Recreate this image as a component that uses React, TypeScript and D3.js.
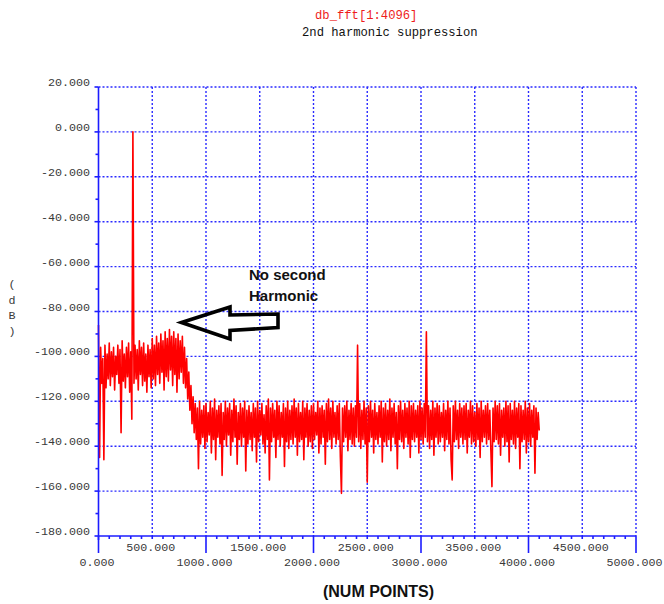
import React from "react";
import * as d3 from "d3";

// ---------- data ----------
const titleMain = "db_fft[1:4096]";
const titleSub = "2nd harmonic suppression";
const yLabel = ["(", "d", "B", ")"];
const xLabel = "(NUM POINTS)";
const noteLines = ["No second", "Harmonic"];

const yTicks = [20, 0, -20, -40, -60, -80, -100, -120, -140, -160, -180];
const xTicks = [0, 500, 1000, 1500, 2000, 2500, 3000, 3500, 4000, 4500, 5000];

// spectrum samples, one every 10 points (0 .. 4100)
const binStep = 10;
const spectrumDb: number[] = [
  -86, -145, -96, -112, -101, -146, -95, -114, -99, -110,
  -94, -113, -98, -109, -96, -115, -100, -108, -95, -112,
  -97, -134, -93, -111, -99, -114, -96, -109, -94, -116,
  -98, -128, 0, -112, -95, -110, -97, -115, -93, -108,
  -96, -113, -94, -111, -99, -116, -95, -109, -97, -114,
  -92, -110, -95, -113, -91, -108, -94, -112, -90, -107,
  -93, -115, -89, -109, -92, -111, -88, -106, -91, -113,
  -89, -108, -92, -116, -90, -110, -93, -107, -91, -112,
  -96, -114, -101, -119, -107, -124, -113, -130, -118, -134,
  -121, -137, -123, -150, -120, -139, -124, -136, -122, -141,
  -121, -138, -125, -135, -120, -143, -123, -137, -119, -146,
  -124, -136, -122, -139, -121, -153, -125, -137, -120, -140,
  -123, -135, -121, -144, -124, -138, -119, -136, -122, -148,
  -125, -137, -121, -140, -123, -136, -120, -151, -124, -139,
  -122, -137, -125, -142, -121, -136, -123, -147, -120, -138,
  -124, -135, -121, -139, -126, -143, -122, -137, -119, -155,
  -123, -138, -121, -136, -124, -145, -120, -137, -122, -140,
  -125, -136, -121, -149, -123, -138, -120, -141, -124, -137,
  -122, -139, -119, -136, -123, -144, -121, -138, -125, -137,
  -120, -146, -123, -136, -121, -140, -124, -138, -122, -141,
  -121, -137, -125, -135, -120, -143, -123, -139, -122, -136,
  -124, -148, -121, -138, -119, -137, -123, -141, -120, -136,
  -125, -139, -122, -137, -121, -145, -161, -123, -138, -122,
  -136, -120, -142, -124, -137, -121, -139, -123, -140, -122,
  -136, -95, -138, -121, -141, -124, -137, -120, -139, -123,
  -156, -122, -138, -120, -136, -124, -143, -121, -137, -125,
  -139, -122, -136, -120, -147, -123, -138, -121, -140, -124,
  -137, -119, -142, -123, -136, -121, -139, -125, -150, -122,
  -137, -120, -138, -124, -141, -121, -136, -123, -139, -120,
  -145, -122, -137, -121, -138, -124, -136, -122, -143, -120,
  -137, -123, -139, -121, -136, -89, -138, -122, -141, -124,
  -137, -120, -144, -123, -136, -121, -139, -122, -138, -125,
  -136, -121, -142, -124, -137, -120, -139, -123, -146, -155,
  -122, -138, -120, -137, -124, -141, -121, -136, -123, -139,
  -122, -137, -121, -143, -124, -136, -120, -139, -122, -138,
  -125, -140, -121, -137, -123, -145, -120, -138, -124, -136,
  -122, -139, -121, -137, -124, -142, -158, -123, -138, -120,
  -137, -122, -139, -121, -144, -124, -136, -123, -140, -120,
  -138, -122, -147, -121, -137, -124, -139, -120, -141, -123,
  -136, -121, -150, -122, -138, -124, -137, -120, -143, -123,
  -138, -121, -140, -124, -136, -122, -152, -123, -137, -125,
  -133,
];

// ---------- component ----------
export default function App() {
  const W = 664;
  const H = 604;
  const x = d3.scaleLinear().domain([0, 5000]).range([98.5, 636]);
  const y = d3.scaleLinear().domain([-180, 20]).range([536, 87]);

  const line = d3
    .line<number>()
    .x((_, i) => x(i * binStep))
    .y((d) => y(d));

  const blue = "#1c1cff";
  const gridColor = "#2a2aff";
  const mono = "'Liberation Mono', 'DejaVu Sans Mono', monospace";
  const textColor = "#3a3a3a";
  const fs = 11.7;

  const yMinor = d3.range(-170, 20, 20);
  const xMinor = d3.range(100, 5000, 100).filter((v) => v % 1000 !== 0);

  return (
    <svg
      width={W}
      height={H}
      viewBox={`0 0 ${W} ${H}`}
      style={{ position: "absolute", left: 0, top: 0, background: "#fff" }}
    >
      <rect x={0} y={0} width={W} height={H} fill="#fff" />

      {/* titles */}
      <text x={315} y={19} fontFamily={mono} fontSize={12.2} fill="#ee1c1c">
        {titleMain}
      </text>
      <text x={302} y={36} fontFamily={mono} fontSize={12.2} fill="#111">
        {titleSub}
      </text>

      {/* grid */}
      <g stroke={gridColor} strokeWidth={1.4} strokeDasharray="2,2" fill="none">
        {yTicks
          .filter((v) => v > -180)
          .map((v) => (
            <line key={"gy" + v} x1={x(0)} x2={x(5000)} y1={y(v)} y2={y(v)} />
          ))}
        {xTicks
          .filter((v) => v > 0)
          .map((v) => (
            <line key={"gx" + v} x1={x(v)} x2={x(v)} y1={y(20)} y2={y(-180)} />
          ))}
      </g>

      {/* spectrum */}
      <path
        d={line(spectrumDb) || ""}
        fill="none"
        stroke="#ff0000"
        strokeWidth={1.6}
        strokeLinejoin="round"
      />

      {/* axes */}
      <g stroke={blue} strokeWidth={1.6} fill="none">
        <line x1={x(0)} x2={x(0)} y1={y(20)} y2={y(-180) + 4} />
        <line x1={x(0)} x2={x(5000)} y1={y(-180)} y2={y(-180)} />
        {yTicks.map((v) => (
          <line key={"ty" + v} x1={x(0) - 4} x2={x(0)} y1={y(v)} y2={y(v)} />
        ))}
        {yMinor.map((v) => (
          <line key={"tym" + v} x1={x(0) - 3} x2={x(0)} y1={y(v)} y2={y(v)} />
        ))}
        {xMinor.map((v) => (
          <line key={"txm" + v} x1={x(v)} x2={x(v)} y1={y(-180)} y2={y(-180) + 3} />
        ))}
        {xTicks
          .filter((v) => v % 1000 === 0)
          .map((v) => (
            <line key={"tx" + v} x1={x(v)} x2={x(v)} y1={y(-180)} y2={y(-180) + 17} />
          ))}
      </g>

      {/* y tick labels */}
      <g fontFamily={mono} fontSize={fs} fill={textColor} textAnchor="end">
        {yTicks.map((v) => (
          <text key={"ly" + v} x={90} y={y(v) - 1}>
            {v.toFixed(3)}
          </text>
        ))}
      </g>

      {/* x tick labels */}
      <g fontFamily={mono} fontSize={fs} fill={textColor} textAnchor="middle">
        {xTicks.map((v) => (
          <text
            key={"lx" + v}
            x={x(v) - 1.5}
            y={v % 1000 === 0 ? 566 : 551}
          >
            {v.toFixed(3)}
          </text>
        ))}
      </g>

      {/* y axis label, stacked */}
      <g fontFamily={mono} fontSize={fs} fill={textColor} textAnchor="middle">
        {yLabel.map((c, i) => (
          <text key={"yl" + i} x={12} y={288 + i * 15.5}>
            {c}
          </text>
        ))}
      </g>

      {/* x axis label */}
      <text
        x={378.5}
        y={597}
        textAnchor="middle"
        fontFamily="'Liberation Sans', Arial, sans-serif"
        fontWeight="bold"
        fontSize={16}
        fill="#111"
      >
        {xLabel}
      </text>

      {/* annotation */}
      <g fontFamily="'Liberation Sans', Arial, sans-serif" fontWeight="bold" fontSize={15} fill="#111">
        {noteLines.map((t, i) => (
          <text key={"n" + i} x={249} y={280 + i * 20.5}>
            {t}
          </text>
        ))}
      </g>
      <path
        d="M181.5,322.5 L230,307 L230,315 L278,314 L278,327.5 L230,330.5 L230,339 Z"
        fill="none"
        stroke="#000"
        strokeWidth={3.6}
        strokeLinejoin="miter"
      />
    </svg>
  );
}
